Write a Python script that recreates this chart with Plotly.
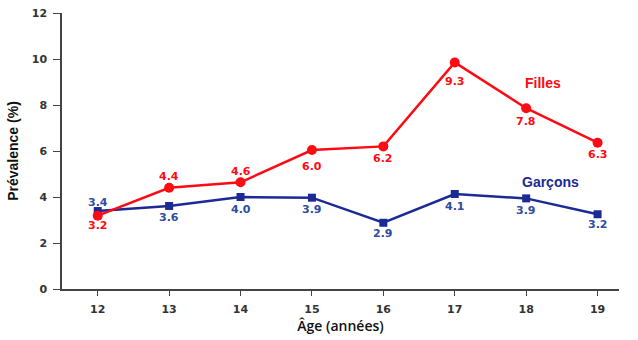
import plotly.graph_objects as go

ages = [12, 13, 14, 15, 16, 17, 18, 19]
filles_values = [3.19, 4.4, 4.64, 6.04, 6.2, 9.85, 7.86, 6.36]
filles_labels = ["3.2", "4.4", "4.6", "6.0", "6.2", "9.3", "7.8", "6.3"]
garcons_values = [3.39, 3.61, 4.0, 3.97, 2.88, 4.13, 3.94, 3.25]
garcons_labels = ["3.4", "3.6", "4.0", "3.9", "2.9", "4.1", "3.9", "3.2"]
y_ticks = [0, 2, 4, 6, 8, 10, 12]

# vertical pixel offsets of the value labels (positive = above the point)
filles_shift = [-10, 11, 11, -16, -12, -19, -13, -12]
garcons_shift = [9, -12, -12, -12, -11, -12, -12, -10]

RED = "#ff0a14"
BLUE_LINE = "#1b2a94"
BLUE_TXT = "#2d4d9e"

fig = go.Figure()
fig.add_trace(go.Scatter(
    x=ages, y=garcons_values, mode="lines+markers",
    line=dict(color=BLUE_LINE, width=2.5),
    marker=dict(symbol="square", size=8, color=BLUE_LINE),
    cliponaxis=False, showlegend=False))
fig.add_trace(go.Scatter(
    x=ages, y=filles_values, mode="lines+markers",
    line=dict(color=RED, width=2.5),
    marker=dict(symbol="circle", size=10, color=RED),
    cliponaxis=False, showlegend=False))

for xv, yv, lab, sh in zip(ages, garcons_values, garcons_labels, garcons_shift):
    fig.add_annotation(x=xv, y=yv, text=f"<b>{lab}</b>", showarrow=False, yshift=sh,
                       font=dict(family="DejaVu Sans", size=11, color=BLUE_TXT))
for xv, yv, lab, sh in zip(ages, filles_values, filles_labels, filles_shift):
    fig.add_annotation(x=xv, y=yv, text=f"<b>{lab}</b>", showarrow=False, yshift=sh,
                       font=dict(family="DejaVu Sans", size=11, color=RED))

fig.add_annotation(x=18.23, y=8.97, text="<b>Filles</b>", showarrow=False,
                   font=dict(family="Liberation Sans", size=14, color=RED))
fig.add_annotation(x=18.34, y=4.67, text="<b>Garçons</b>", showarrow=False,
                   font=dict(family="Liberation Sans", size=14, color=BLUE_LINE))

fig.update_layout(
    width=638, height=340,
    margin=dict(l=62, r=19, t=13, b=51),
    plot_bgcolor="white", paper_bgcolor="white",
    xaxis=dict(range=[11.5, 19.3], tickvals=ages, ticks="outside", ticklen=5,
               ticklabelstandoff=4,
               tickcolor="#444", showline=True, linecolor="#444", linewidth=1.5,
               showgrid=False, zeroline=False, automargin=False,
               tickfont=dict(family="DejaVu Sans", size=11, color="#333", weight="bold"),
               title=dict(text="Âge (années)", standoff=6,
                          font=dict(family="Open Sans", size=14, color="#111", weight=600))),
    yaxis=dict(range=[0, 12], tickvals=y_ticks, ticks="outside", ticklen=7,
               ticklabelstandoff=4,
               tickcolor="#444", showline=True, linecolor="#444", linewidth=1.5,
               showgrid=False, zeroline=False, automargin=False,
               tickfont=dict(family="DejaVu Sans", size=11, color="#333", weight="bold"),
               title=dict(text="<b>Prévalence (%)</b>", standoff=10,
                          font=dict(family="Liberation Sans", size=14, color="#111"))),
)

fig.write_html("out.html")
